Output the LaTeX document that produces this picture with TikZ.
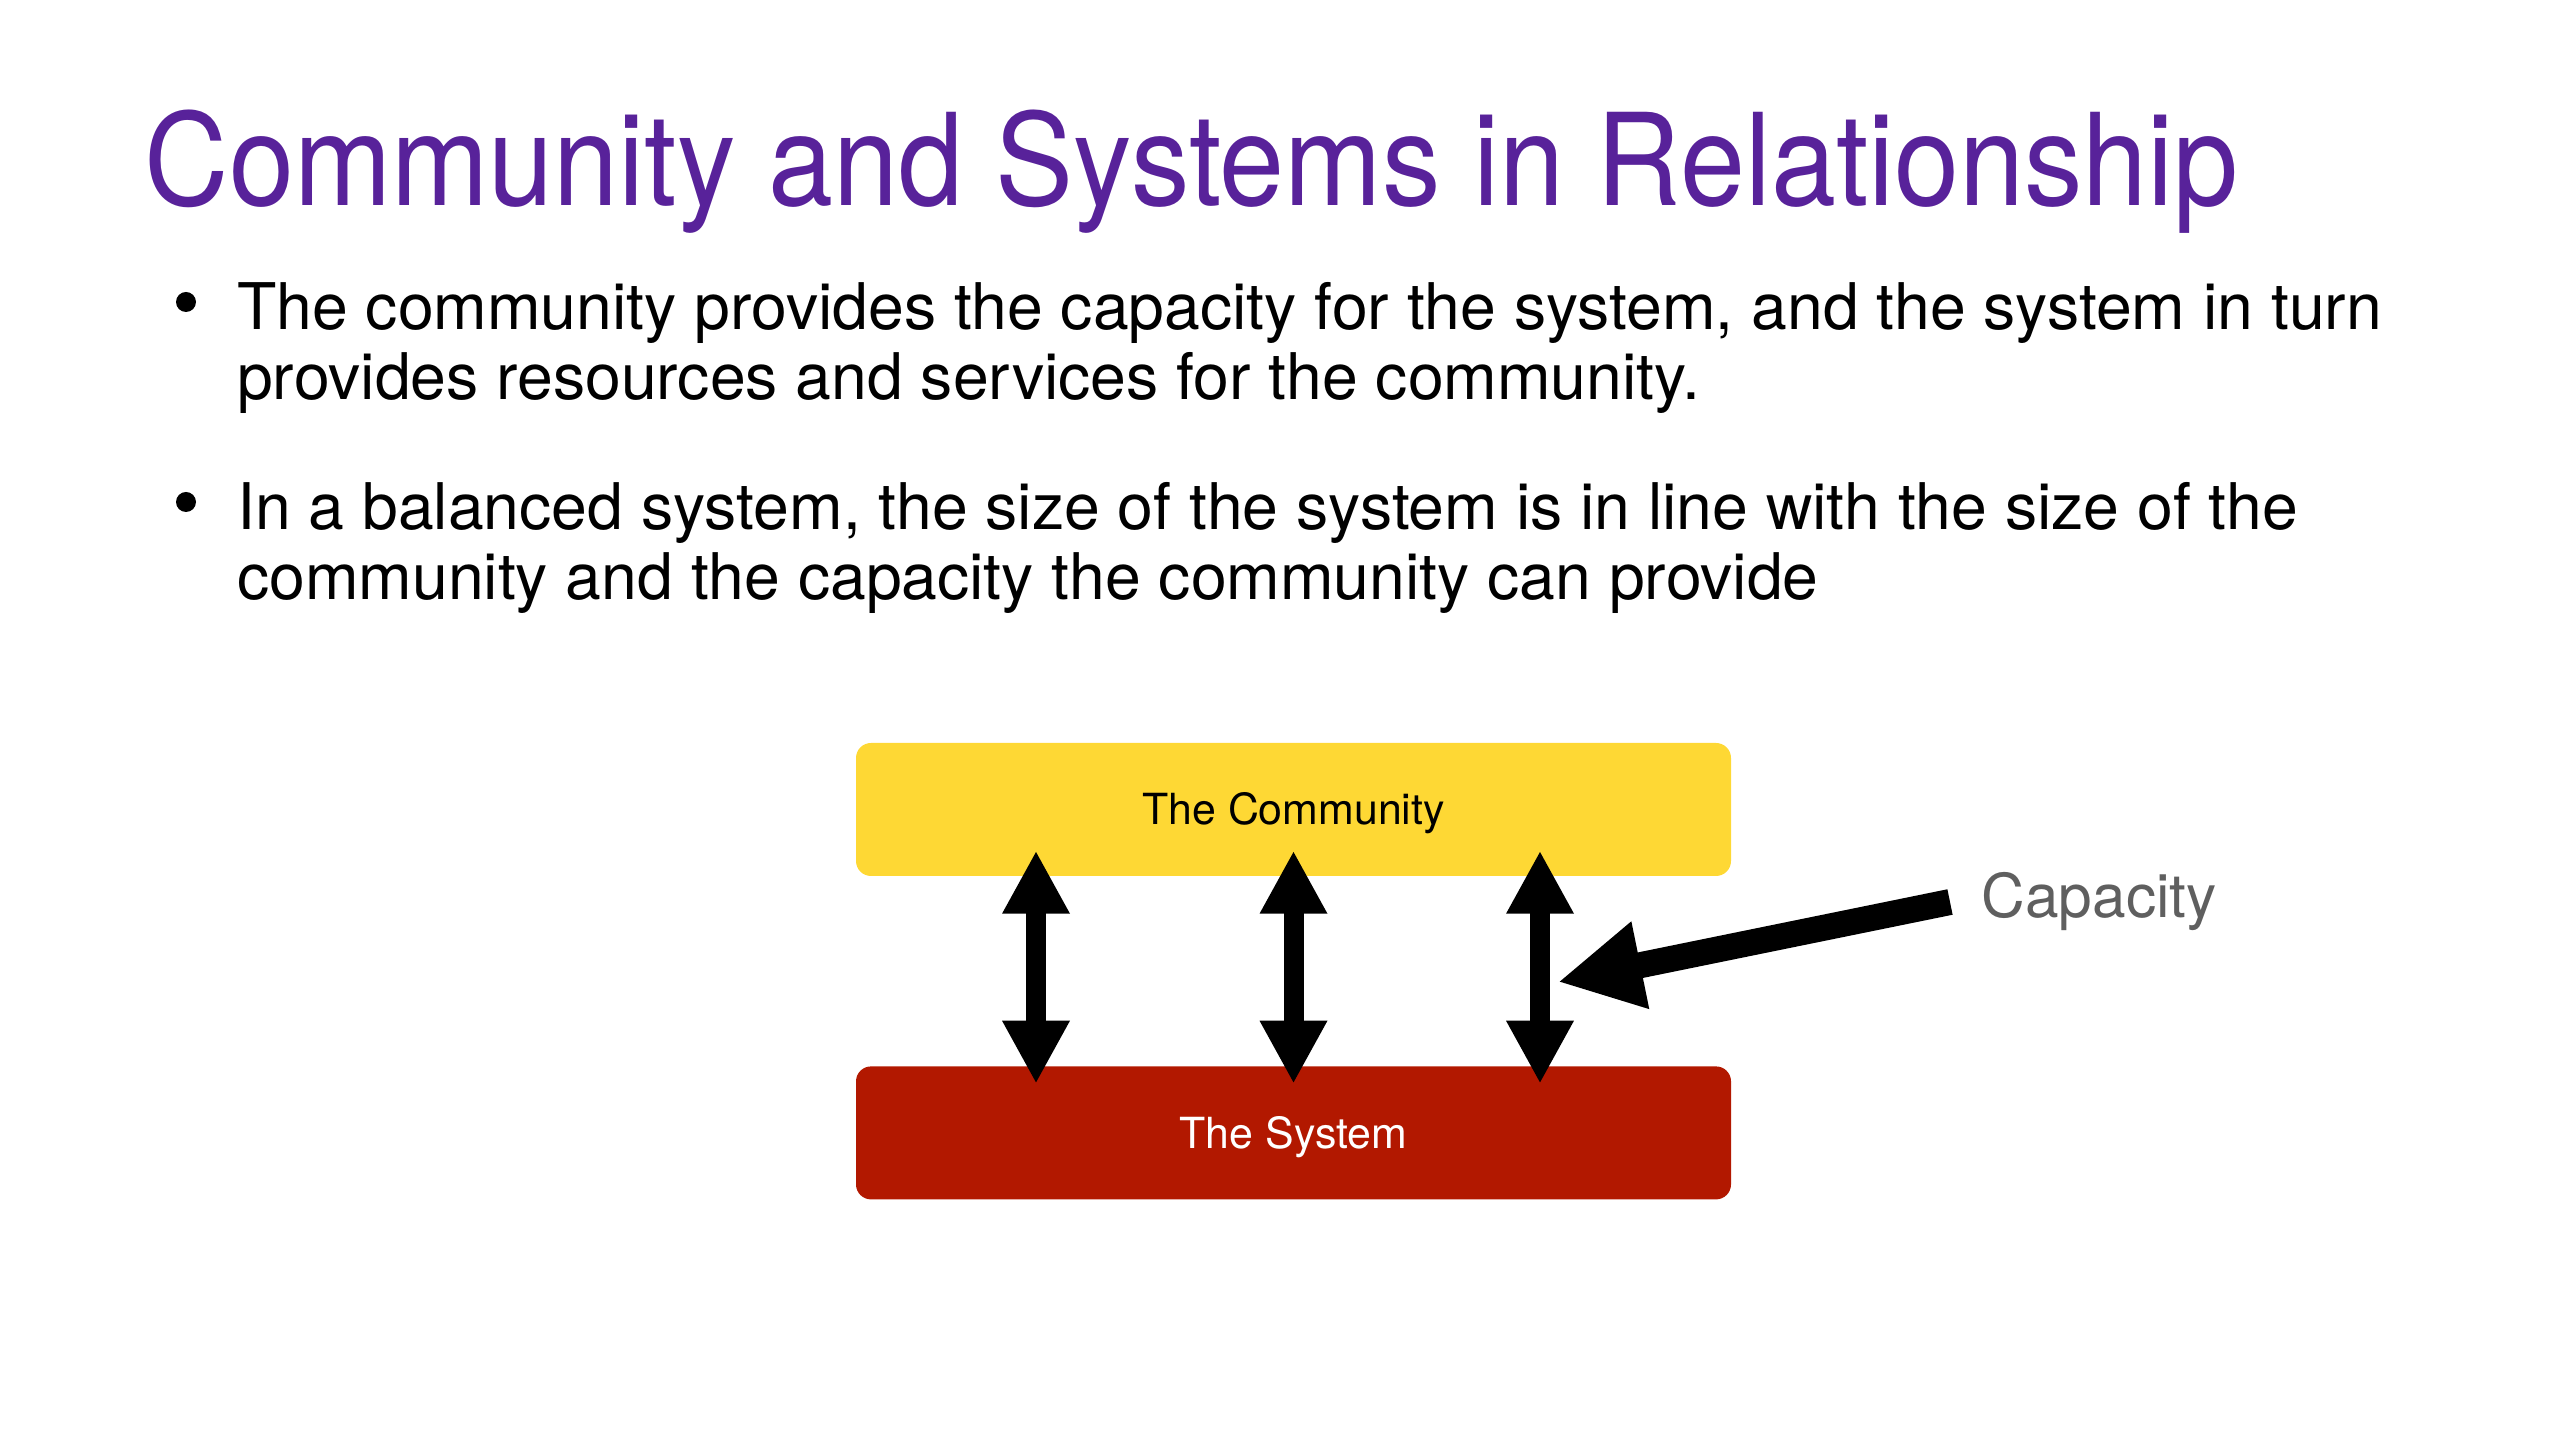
\documentclass[tikz,border=0pt]{standalone}
\usepackage{fontspec}
\setmainfont{TeX Gyre Heros}
\usetikzlibrary{arrows.meta,positioning}
\definecolor{titlepurple}{RGB}{88,34,154}
\definecolor{commyellow}{RGB}{254,216,52}
\definecolor{sysred}{RGB}{178,24,0}
\definecolor{capgray}{RGB}{95,95,95}
\begin{document}
\begin{tikzpicture}[
    box/.style = {rounded corners = 1.5mm, minimum width = 8.75cm, minimum height = 1.33cm, text height = .31cm, text depth = 0pt, font = \fontsize{12.2pt}{14pt}\selectfont},
    body/.style = {anchor = base west, inner sep = 0, align = left, font = \fontsize{18.3pt}{19.92pt}\selectfont},
    dot/.style = {circle, fill, inner sep = 0, minimum size = .2cm},
    dbl/.style = {line width = 2mm, {Triangle[width = 6.3mm, length = 6.3mm]}-{Triangle[width = 6.3mm, length = 6.3mm]}}]
      \useasboundingbox (0,0) rectangle (25.6,14.4);
      \node [anchor = base west, inner sep = 0, xscale = .914, text = titlepurple, font = \fontsize{36.4pt}{40pt}\selectfont] (title) at (1.44,12.34) {Community and Systems in Relationship};
      % body nodes sit on their last line
      \node [dot] (dotA) at (1.86,11.38) {};
      \node [body] (pointA) at (2.365,10.40) {The community provides the capacity for the system, and the system in turn\\provides resources and services for the community.};
      \node [dot] (dotB) at (1.86,9.38) {};
      \node [body] (pointB) at (2.365,8.40) {In a balanced system, the size of the system is in line with the size of the\\community and the capacity the community can provide};
      \node [box, fill = commyellow] (community) at (12.935,6.305) {The Community};
      \node [box, fill = sysred, text = white, below = 1.89cm of community] (system) {The System};
      \foreach \dx in {-2.575,0,2.465}
        \draw [dbl] ([xshift = \dx cm, yshift = .26cm]community.south) -- ([xshift = \dx cm, yshift = -.18cm]system.north);
      \node [anchor = base west, inner sep = 0, text = capgray, font = \fontsize{17.2pt}{20pt}\selectfont] (capacity) at (19.81,5.22) {Capacity};
      \coordinate (capTip) at (15.58,4.58);
      \draw [line width = 2.6mm, -{Triangle[width = 8.3mm, length = 8.4mm]}] ([xshift = -.31cm]capacity.west) -- (capTip);
\end{tikzpicture}
\end{document}
